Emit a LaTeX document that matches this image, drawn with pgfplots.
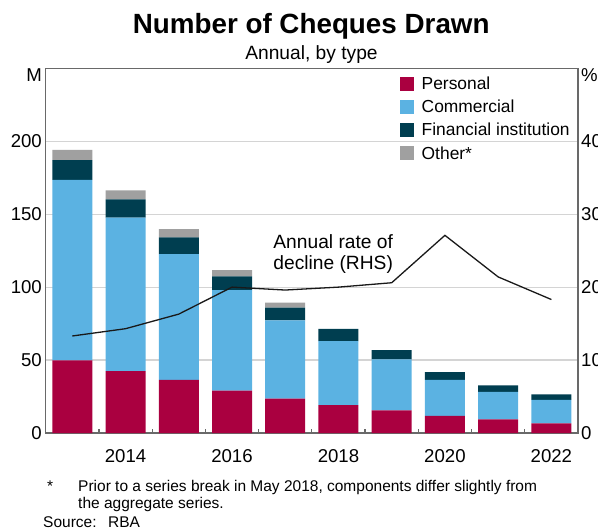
\documentclass[border=0pt]{standalone}
\usepackage{fontspec}
\setmainfont{Liberation Sans}
\usepackage{pgfplots}
\pgfplotsset{compat=1.18}
\definecolor{personal}{RGB}{170,0,64}
\definecolor{commercial}{RGB}{91,178,226}
\definecolor{financial}{RGB}{0,62,80}
\definecolor{other}{RGB}{160,160,160}
\definecolor{gridc}{RGB}{212,212,212}
\definecolor{axisc}{RGB}{105,105,105}
\begin{document}
\begin{tikzpicture}
\pgfplotsset{
  base/.style={
    scale only axis, width=532.3pt, height=364.7pt,
    at={(0,0)}, anchor=south west,
    xmin=2012.5, xmax=2022.5,
    /pgf/number format/assume math mode=true,
    /pgf/number format/1000 sep={},
    axis line style={draw=axisc, line width=1.3pt},
    tick label style={font=\fontsize{18.6}{22}\selectfont},
    major tick length=0pt,
  }
}
\path[use as bounding box] (-45.7pt,-98pt) rectangle (552.3pt,433pt);
\begin{axis}[base,
  ymin=0, ymax=250,
  ytick={0,50,100,150,200},
  ymajorgrids, grid style={draw=gridc, line width=1.2pt},
  xtick={2014,2016,2018,2020,2022},
  xticklabel style={anchor=north, inner sep=0pt, yshift=-16pt},
  minor xtick={2013.5,2014.5,...,2021.5},
  minor tick length=4pt,
  minor tick style={draw=axisc, line width=1.2pt},
  xtick pos=bottom, ytick pos=left,
  tick align=inside,
  yticklabel style={inner sep=0pt, xshift=-3.7pt},
  ybar stacked, bar width=40pt,
  legend style={draw=none, fill=none, at={(0.6656,0.9896)}, anchor=north west,
    inner sep=0pt, outer sep=0pt, row sep=0pt,
    font=\fontsize{17.4}{21}\selectfont,
    nodes={inner sep=0pt, outer sep=0pt, text height=17.4pt, text depth=5.8pt},
    /tikz/every odd column/.append style={column sep=7.7pt}},
  legend cell align=left,
  legend image code/.code={\fill[#1] (0pt,-7pt) rectangle (14pt,7pt);},
]
\addplot[fill=personal, draw=none] coordinates {
 (2013,49.8) (2014,42.5) (2015,36.4) (2016,29.1) (2017,23.6)
 (2018,19.1) (2019,15.5) (2020,11.8) (2021,9.3) (2022,6.6)};
\addplot[fill=commercial, draw=none] coordinates {
 (2013,123.8) (2014,105.2) (2015,86.3) (2016,68.9) (2017,53.6)
 (2018,43.9) (2019,35.0) (2020,24.6) (2021,18.9) (2022,16.1)};
\addplot[fill=financial, draw=none] coordinates {
 (2013,13.4) (2014,12.5) (2015,11.4) (2016,9.3) (2017,8.7)
 (2018,8.4) (2019,6.3) (2020,5.4) (2021,4.5) (2022,3.7)};
\addplot[fill=other, draw=none] coordinates {
 (2013,7.0) (2014,6.2) (2015,5.7) (2016,4.3) (2017,3.4)};
\legend{Personal, Commercial, Financial institution, Other*}
\end{axis}
\begin{axis}[base,
  ymin=0, ymax=50,
  ytick={0,10,20,30,40},
  axis x line=none, axis y line*=right,
  yticklabel style={inner sep=0pt, xshift=3pt, anchor=west},
]
\addplot[black!90, line width=1.3pt, mark=none] coordinates {
 (2013,13.3) (2014,14.3) (2015,16.3) (2016,20.0) (2017,19.6)
 (2018,20.0) (2019,20.6) (2020,27.1) (2021,21.4) (2022,18.3)};
\end{axis}
% titles and labels
\node[font=\bfseries\fontsize{27.8}{32}\selectfont, anchor=base, inner sep=0pt] at (265.5pt,399.7pt) {Number of Cheques Drawn};
\node[font=\fontsize{19.2}{22}\selectfont, anchor=base, inner sep=0pt] at (265.8pt,373pt) {Annual, by type};
\node[font=\fontsize{18.6}{22}\selectfont, anchor=east, inner sep=0pt] at (-3.7pt,358pt) {M};
\node[font=\fontsize{18.6}{22}\selectfont, anchor=west, inner sep=0pt] at (535.3pt,358pt) {\%};
\node[font=\fontsize{19.2}{22}\selectfont, anchor=base, inner sep=0pt] at (287.5pt,184.5pt) {Annual rate of};
\node[font=\fontsize{19.2}{22}\selectfont, anchor=base, inner sep=0pt] at (287.5pt,163pt) {decline (RHS)};
% footnotes
\node[font=\fontsize{15.5}{18}\selectfont, anchor=base west, inner sep=0pt] at (1.3pt,-58pt) {*};
\node[font=\fontsize{15.5}{18}\selectfont, anchor=base west, inner sep=0pt] at (32.3pt,-58pt) {Prior to a series break in May 2018, components differ slightly from};
\node[font=\fontsize{15.5}{18}\selectfont, anchor=base west, inner sep=0pt] at (32.3pt,-75.5pt) {the aggregate series.};
\node[font=\fontsize{15.5}{18}\selectfont, anchor=base west, inner sep=0pt] at (-2.7pt,-94pt) {Source:};
\node[font=\fontsize{15.5}{18}\selectfont, anchor=base west, inner sep=0pt] at (62.3pt,-94pt) {RBA};
\end{tikzpicture}
\end{document}
